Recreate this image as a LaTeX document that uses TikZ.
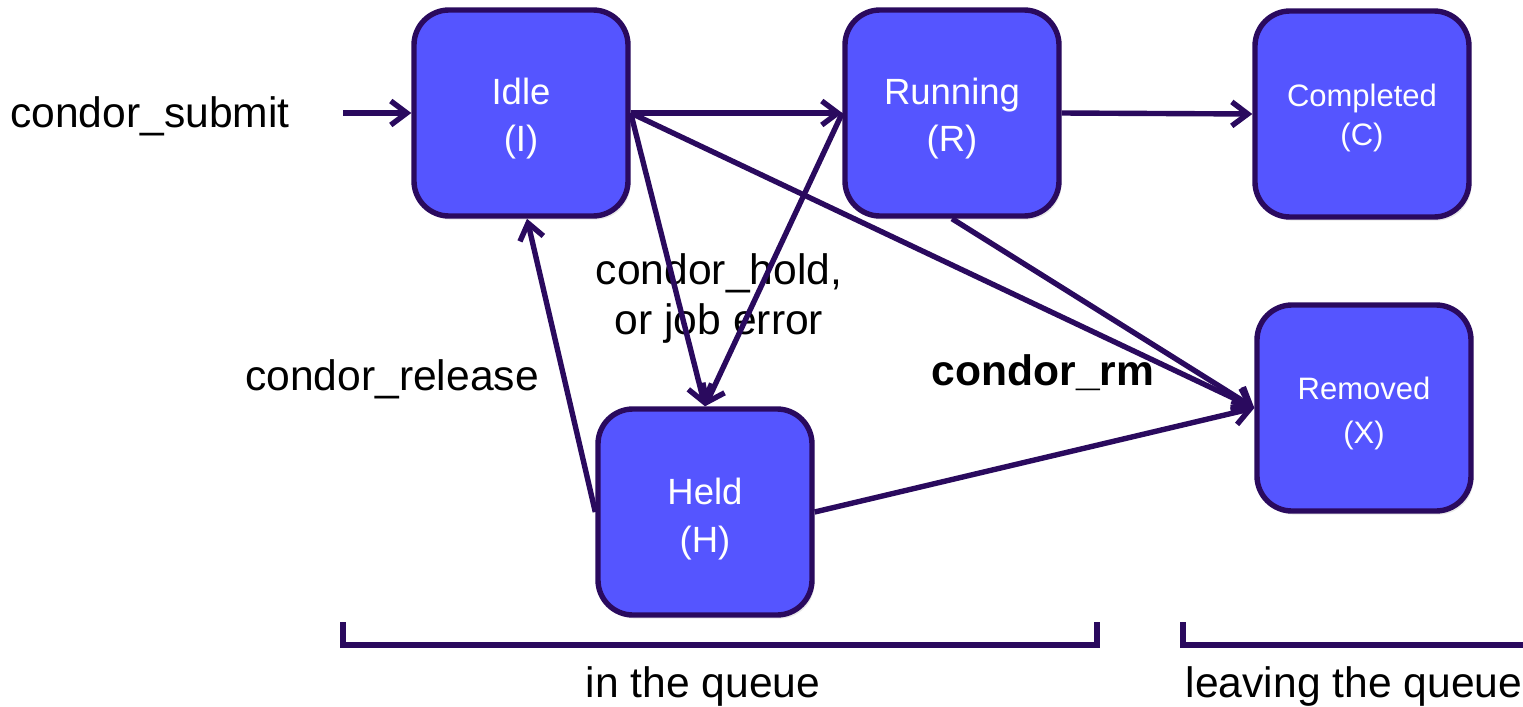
\documentclass[tikz,border=0pt]{standalone}
\usepackage{fontspec}
\setmainfont{Liberation Sans}
\usetikzlibrary{arrows.meta,shadows}
\definecolor{edgecol}{HTML}{2A0A5E}
\definecolor{boxfill}{HTML}{5555FF}
\begin{document}
\begin{tikzpicture}[x=0.5pt,y=-0.5pt,
 state/.style={draw=edgecol, fill=boxfill, line width=2.7pt, rounded corners=17.5pt,
   minimum width=107pt, minimum height=103pt, inner sep=0pt,
   drop shadow={opacity=0.18, shadow xshift=1.2pt, shadow yshift=-1.8pt}},
 bigtext/.style={text=white, align=center, inner sep=0pt, font=\fontsize{18.25}{23.5}\selectfont},
 smalltext/.style={text=white, align=center, inner sep=0pt, font=\fontsize{15.5}{20}\selectfont},
 conn/.style={draw=edgecol, line width=2.7pt, -{Straight Barb[length=8pt,width=12pt]}},
 lbl/.style={font=\fontsize{21.3}{25}\selectfont, align=center, inner sep=0pt},
 bracket/.style={draw=edgecol, line width=2.7pt}]
\useasboundingbox (0,0) rectangle (1523,707);
\node[state] (I) at (521,113) {};
\node[state] (R) at (952,113) {};
\node[state] (C) at (1362,114) {};
\node[state] (X) at (1364,408) {};
\node[state] (H) at (705,512) {};
\node[bigtext] (It) at (521,119) {Idle\\(I)};
\node[bigtext] (Rt) at (952,119) {Running\\(R)};
\node[smalltext,font=\fontsize{15.5}{19.5}\selectfont] (Ct) at (1362,118) {Completed\\(C)};
\node[smalltext,font=\fontsize{15.5}{22}\selectfont] (Xt) at (1364,413) {Removed\\(X)};
\node[bigtext,font=\fontsize{18.25}{24}\selectfont] (Ht) at (705,519) {Held\\(H)};
\coordinate (S) at (343,113);
\node[lbl] (submit) at (150,116) {condor\_submit};
\node[lbl] (hold) at (719,298) {condor\_hold,\\or job error};
\node[lbl] (release) at (392,379) {condor\_release};
\node[lbl,font=\fontsize{21.3}{25}\selectfont\bfseries] (rm) at (1043,373) {condor\_rm};
\node[lbl] (inq) at (703,686) {in the queue};
\node[lbl] (leave) at (1354,686) {leaving the queue};
\draw[conn] (S) -- (I.west);
\draw[conn] (I.east) -- (R.west);
\draw[conn] (R.east) -- (C.west);
\draw[conn] (I.east) -- (X.west);
\draw[conn] (R.south) -- (X.west);
\draw[conn] (H.east) -- (X.west);
\draw[conn] (I.east) -- (H.north);
\draw[conn] (R.west) -- (H.north);
\draw[conn] (H.west) -- ([xshift=3pt]I.south);
\draw[bracket] (343,622) -- (343,645) -- (1097,645) -- (1097,622);
\draw[bracket] (1183,622) -- (1183,645) -- (1530,645);
\end{tikzpicture}
\end{document}
